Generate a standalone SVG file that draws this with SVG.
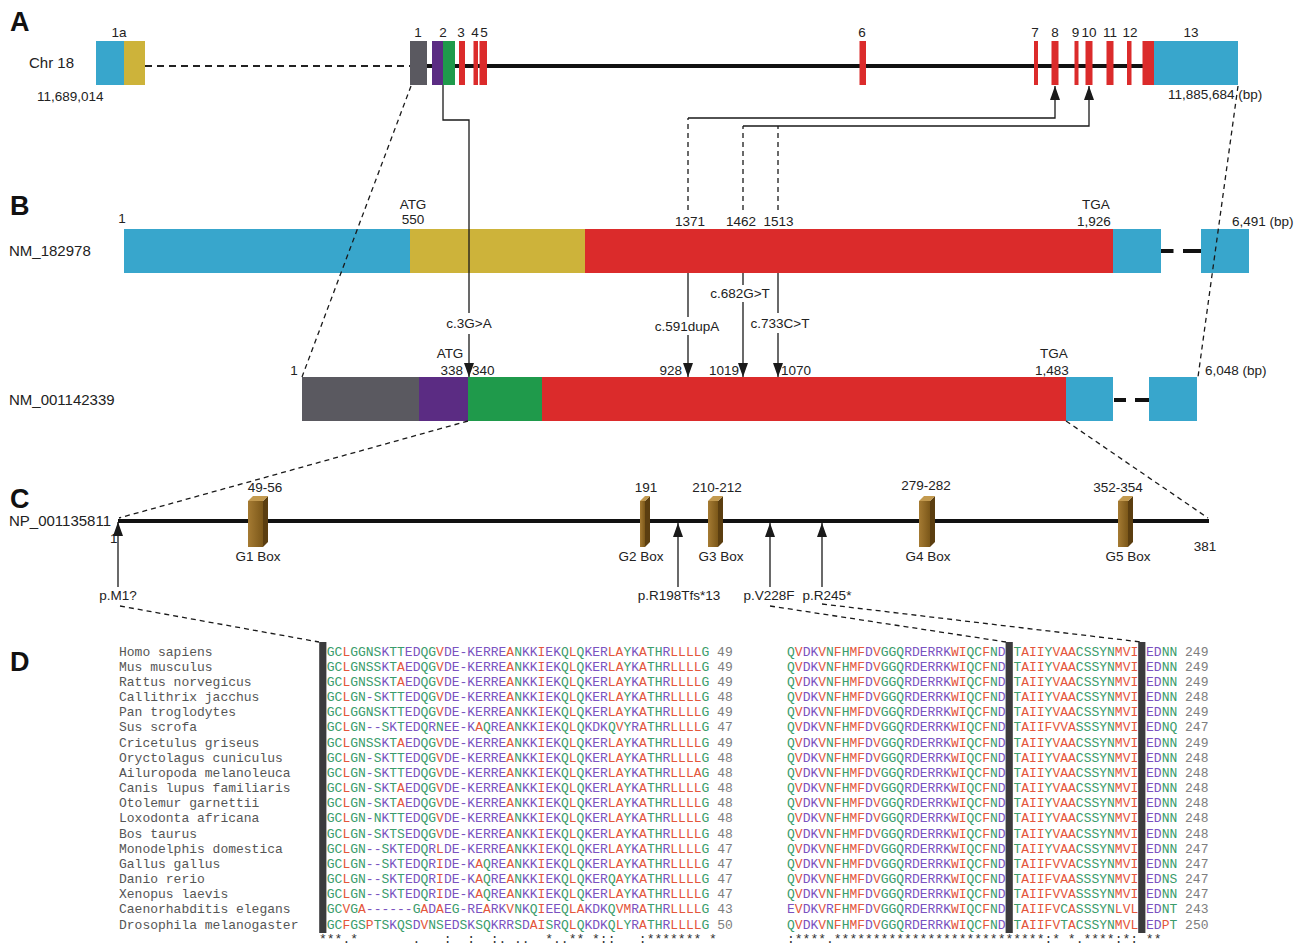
<svg xmlns="http://www.w3.org/2000/svg" width="1301" height="945" viewBox="0 0 1301 945">
<defs>
<style>
text{font-family:"Liberation Sans",Arial,sans-serif;fill:#222}
.pl{font-size:27px;font-weight:bold;fill:#111}
.nm{font-size:15px}
.lb{font-size:13.5px}
.mid{text-anchor:middle}
.end{text-anchor:end}
.blue{fill:#38a6cc}.yel{fill:#cdb33a}.red{fill:#db2b2b}.gry{fill:#5a5960}.pur{fill:#5b2c83}.grn{fill:#1f9a4b}
.ln{stroke:#1a1a1a;stroke-width:1.3;fill:none}
.ds{stroke:#1a1a1a;stroke-width:1.3;fill:none;stroke-dasharray:5 4}
.aa{font-family:"Liberation Mono","Courier New",monospace;font-size:13px;fill:#7a52bf;white-space:pre}
.sp{font-family:"Liberation Mono","Courier New",monospace;font-size:13px;fill:#555}
.r{fill:#e4563b}.g{fill:#3a9c6b}.n{fill:#7d7d7d}
.cs{font-family:"Liberation Mono","Courier New",monospace;font-size:13px;fill:#333;white-space:pre}
.bar{fill:#3b3b3d}
.bf{fill:url(#bx)}.bs{fill:#5b3e10}.bt{fill:#c39a4f}
</style>
<marker id="ah" viewBox="0 0 14 10" refX="14" refY="5" markerWidth="14" markerHeight="10" markerUnits="userSpaceOnUse" orient="auto"><path d="M0,0L14,5L0,10z" fill="#1a1a1a"/></marker>
<linearGradient id="bx" x1="0" x2="1" y1="0" y2="0"><stop offset="0" stop-color="#a57b33"/><stop offset="1" stop-color="#7b5719"/></linearGradient>
</defs>
<rect width="1301" height="945" fill="#fff"/>

<g id="labels">
<text class="pl" x="10" y="31">A</text>
<text class="pl" x="10" y="215">B</text>
<text class="pl" x="10" y="508">C</text>
<text class="pl" x="10" y="671">D</text>
</g>

<g id="chr18">
<text class="nm" x="29" y="68">Chr 18</text>
<text class="lb" x="37" y="101">11,689,014</text>
<text class="lb" x="1168" y="99">11,885,684 (bp)</text>
<line x1="145" y1="66" x2="410" y2="66" stroke="#222" stroke-width="2" stroke-dasharray="7 5"/>
<line x1="427" y1="66" x2="1143" y2="66" stroke="#111" stroke-width="4"/>
</g>
<g id="exon1a"><rect class="blue" x="96" y="41" width="28" height="44"/><rect class="yel" x="124" y="41" width="21" height="44"/><text class="lb mid" x="119" y="37">1a</text></g>
<g id="exon1"><rect class="gry" x="410" y="41" width="17" height="44"/><text class="lb mid" x="418" y="37">1</text></g>
<g id="exon2"><rect class="pur" x="432" y="41" width="11" height="44"/><rect class="grn" x="443" y="41" width="12" height="44"/><text class="lb mid" x="443" y="37">2</text></g>
<g id="exon3"><rect class="red" x="459" y="41" width="6" height="44"/><text class="lb mid" x="461" y="37">3</text></g>
<g id="exon4"><rect class="red" x="473.5" y="41" width="4.5" height="44"/><text class="lb mid" x="475" y="37">4</text></g>
<g id="exon5"><rect class="red" x="479.5" y="41" width="7.5" height="44"/><text class="lb mid" x="484" y="37">5</text></g>
<g id="exon6"><rect class="red" x="859.5" y="41" width="6.5" height="44"/><text class="lb mid" x="862" y="37">6</text></g>
<g id="exon7"><rect class="red" x="1034" y="41" width="4" height="44"/><text class="lb mid" x="1035" y="37">7</text></g>
<g id="exon8"><rect class="red" x="1051.5" y="41" width="7" height="44"/><text class="lb mid" x="1055" y="37">8</text></g>
<g id="exon9"><rect class="red" x="1074.5" y="41" width="4" height="44"/><text class="lb mid" x="1075.5" y="37">9</text></g>
<g id="exon10"><rect class="red" x="1085.5" y="41" width="7" height="44"/><text class="lb mid" x="1089" y="37">10</text></g>
<g id="exon11"><rect class="red" x="1106.5" y="41" width="7" height="44"/><text class="lb mid" x="1110" y="37">11</text></g>
<g id="exon12"><rect class="red" x="1127" y="41" width="4.5" height="44"/><text class="lb mid" x="1130" y="37">12</text></g>
<g id="exon13"><rect class="red" x="1142.5" y="41" width="11.5" height="44"/><rect class="blue" x="1154" y="41" width="84" height="44"/><text class="lb mid" x="1191" y="37">13</text></g>

<g id="NM_182978">
<text class="nm" x="9" y="256">NM_182978</text>
<rect class="blue" x="124" y="229" width="286" height="44"/>
<rect class="yel" x="410" y="229" width="175" height="44"/>
<rect class="red" x="585" y="229" width="528" height="44"/>
<rect class="blue" x="1113" y="229" width="48" height="44"/>
<rect x="1161" y="249" width="12.5" height="4" fill="#111"/>
<rect x="1183" y="249" width="18" height="4" fill="#111"/>
<rect class="blue" x="1201" y="229" width="48" height="44"/>
<text class="lb mid" x="122" y="223">1</text>
<text class="lb mid" x="413" y="209">ATG</text>
<text class="lb mid" x="413" y="224">550</text>
<text class="lb mid" x="690" y="226">1371</text>
<text class="lb mid" x="741" y="226">1462</text>
<text class="lb mid" x="778.5" y="226">1513</text>
<text class="lb mid" x="1096" y="209">TGA</text>
<text class="lb mid" x="1094" y="226">1,926</text>
<text class="lb" x="1232" y="226">6,491 (bp)</text>
</g>

<g id="NM_001142339">
<text class="nm" x="9" y="405">NM_001142339</text>
<rect class="gry" x="302" y="377" width="117" height="44"/>
<rect class="pur" x="419" y="377" width="49" height="44"/>
<rect class="grn" x="468" y="377" width="74" height="44"/>
<rect class="red" x="542" y="377" width="524" height="44"/>
<rect class="blue" x="1066" y="377" width="47" height="44"/>
<rect x="1114" y="398" width="12" height="4" fill="#111"/>
<rect x="1135" y="398" width="14" height="4" fill="#111"/>
<rect class="blue" x="1149" y="377" width="48" height="44"/>
<text class="lb mid" x="294" y="375">1</text>
<text class="lb mid" x="450" y="358">ATG</text>
<text class="lb end" x="463" y="375">338</text>
<text class="lb" x="472" y="375">340</text>
<text class="lb end" x="682" y="375">928</text>
<text class="lb end" x="739" y="375">1019</text>
<text class="lb" x="781" y="375">1070</text>
<text class="lb mid" x="1054" y="358">TGA</text>
<text class="lb mid" x="1052" y="375">1,483</text>
<text class="lb" x="1205" y="375">6,048 (bp)</text>
</g>

<g id="NP_001135811">
<text class="nm" x="9" y="526">NP_001135811</text>
<line x1="118" y1="521" x2="1209" y2="521" stroke="#111" stroke-width="4"/>
<text class="lb" x="110" y="543">1</text>
<text class="lb mid" x="1205" y="551">381</text>
</g>
<g id="G1box"><rect class="bf" x="248" y="501" width="15" height="46"/><polygon class="bs" points="263,501 268,496 268,542 263,547"/><polygon class="bt" points="248,501 253,496 268,496 263,501"/><text class="lb mid" x="265" y="492">49-56</text><text class="lb mid" x="258" y="561">G1 Box</text></g>
<g id="G2box"><rect class="bf" x="640" y="501" width="5" height="46"/><polygon class="bs" points="645,501 650,496 650,542 645,547"/><polygon class="bt" points="640,501 645,496 650,496 645,501"/><text class="lb mid" x="646" y="492">191</text><text class="lb mid" x="641" y="561">G2 Box</text></g>
<g id="G3box"><rect class="bf" x="708" y="501" width="10" height="46"/><polygon class="bs" points="718,501 723,496 723,542 718,547"/><polygon class="bt" points="708,501 713,496 723,496 718,501"/><text class="lb mid" x="717" y="492">210-212</text><text class="lb mid" x="721" y="561">G3 Box</text></g>
<g id="G4box"><rect class="bf" x="919" y="501" width="11" height="46"/><polygon class="bs" points="930,501 935,496 935,542 930,547"/><polygon class="bt" points="919,501 924,496 935,496 930,501"/><text class="lb mid" x="926" y="490">279-282</text><text class="lb mid" x="928" y="561">G4 Box</text></g>
<g id="G5box"><rect class="bf" x="1118" y="501" width="10" height="46"/><polygon class="bs" points="1128,501 1133,496 1133,542 1128,547"/><polygon class="bt" points="1118,501 1123,496 1133,496 1128,501"/><text class="lb mid" x="1118" y="492">352-354</text><text class="lb mid" x="1128" y="561">G5 Box</text></g>

<g id="mutations">
<text class="lb mid" x="469" y="328">c.3G&gt;A</text>
<text class="lb mid" x="687" y="331">c.591dupA</text>
<text class="lb mid" x="740" y="298">c.682G&gt;T</text>
<text class="lb mid" x="780" y="328">c.733C&gt;T</text>
<text class="lb mid" x="118" y="600">p.M1?</text>
<text class="lb mid" x="679" y="600">p.R198Tfs*13</text>
<text class="lb mid" x="769" y="600">p.V228F</text>
<text class="lb mid" x="827" y="600">p.R245*</text>
</g>

<g id="connectors">
<path class="ln" d="M443,85V120H469V313"/>
<path class="ln" d="M469,334V377" marker-end="url(#ah)"/>
<line class="ds" x1="411" y1="86" x2="302" y2="377"/>
<line class="ds" x1="1238" y1="86" x2="1198" y2="377"/>
<path class="ds" d="M688,210V118"/>
<path class="ln" d="M688,118H1055V86" marker-end="url(#ah)"/>
<path class="ds" d="M743,210V126"/>
<path class="ln" d="M743,126H1089V86" marker-end="url(#ah)"/>
<path class="ds" d="M778,210V126"/>
<path class="ln" d="M688,273V317"/>
<path class="ln" d="M688,335V377" marker-end="url(#ah)"/>
<path class="ln" d="M743,273V285"/>
<path class="ln" d="M743,302V377" marker-end="url(#ah)"/>
<path class="ln" d="M778,273V313"/>
<path class="ln" d="M778,333V377" marker-end="url(#ah)"/>
<line class="ds" x1="468" y1="421" x2="119" y2="518"/>
<line class="ds" x1="1066" y1="421" x2="1208" y2="518"/>
<path class="ln" d="M118,587V522" marker-end="url(#ah)"/>
<path class="ln" d="M678,587V523" marker-end="url(#ah)"/>
<path class="ln" d="M770,587V523" marker-end="url(#ah)"/>
<path class="ln" d="M822,587V523" marker-end="url(#ah)"/>
<line class="ds" x1="120" y1="606" x2="319" y2="642"/>
<line class="ds" x1="770" y1="606" x2="1006" y2="642"/>
<line class="ds" x1="822" y1="604" x2="1141" y2="642"/>
</g>

<g id="species">
<text class="sp" x="119" y="655.5">Homo sapiens</text>
<text class="sp" x="119" y="670.7">Mus musculus</text>
<text class="sp" x="119" y="685.8">Rattus norvegicus</text>
<text class="sp" x="119" y="701">Callithrix jacchus</text>
<text class="sp" x="119" y="716.2">Pan troglodytes</text>
<text class="sp" x="119" y="731.4">Sus scrofa</text>
<text class="sp" x="119" y="746.5">Cricetulus griseus</text>
<text class="sp" x="119" y="761.7">Oryctolagus cuniculus</text>
<text class="sp" x="119" y="776.9">Ailuropoda melanoleuca</text>
<text class="sp" x="119" y="792">Canis lupus familiaris</text>
<text class="sp" x="119" y="807.2">Otolemur garnettii</text>
<text class="sp" x="119" y="822.4">Loxodonta africana</text>
<text class="sp" x="119" y="837.5">Bos taurus</text>
<text class="sp" x="119" y="852.7">Monodelphis domestica</text>
<text class="sp" x="119" y="867.9">Gallus gallus</text>
<text class="sp" x="119" y="883.1">Danio rerio</text>
<text class="sp" x="119" y="898.2">Xenopus laevis</text>
<text class="sp" x="119" y="913.4">Caenorhabditis elegans</text>
<text class="sp" x="119" y="928.6">Drosophila melanogaster</text>
</g>

<g id="alnLeft" xml:space="preserve">
<text class="aa" x="326.8" y="655.5"><tspan class="g">GC</tspan><tspan class="r">L</tspan><tspan class="g">GGNS</tspan>K<tspan class="g">TT</tspan>ED<tspan class="g">QG</tspan><tspan class="r">V</tspan>DE-KERRE<tspan class="r">A</tspan><tspan class="g">N</tspan>KK<tspan class="r">I</tspan>EK<tspan class="g">Q</tspan><tspan class="r">L</tspan><tspan class="g">Q</tspan>KER<tspan class="r">LA</tspan><tspan class="g">Y</tspan>K<tspan class="r">A</tspan><tspan class="g">TH</tspan>R<tspan class="r">LLLL</tspan><tspan class="g">G</tspan><tspan class="n"> 49</tspan></text>
<text class="aa" x="326.8" y="670.7"><tspan class="g">GC</tspan><tspan class="r">L</tspan><tspan class="g">GNSS</tspan>K<tspan class="g">T</tspan><tspan class="r">A</tspan>ED<tspan class="g">QG</tspan><tspan class="r">V</tspan>DE-KERRE<tspan class="r">A</tspan><tspan class="g">N</tspan>KK<tspan class="r">I</tspan>EK<tspan class="g">Q</tspan><tspan class="r">L</tspan><tspan class="g">Q</tspan>KER<tspan class="r">LA</tspan><tspan class="g">Y</tspan>K<tspan class="r">A</tspan><tspan class="g">TH</tspan>R<tspan class="r">LLLL</tspan><tspan class="g">G</tspan><tspan class="n"> 49</tspan></text>
<text class="aa" x="326.8" y="685.8"><tspan class="g">GC</tspan><tspan class="r">L</tspan><tspan class="g">GNSS</tspan>K<tspan class="g">T</tspan><tspan class="r">A</tspan>ED<tspan class="g">QG</tspan><tspan class="r">V</tspan>DE-KERRE<tspan class="r">A</tspan><tspan class="g">N</tspan>KK<tspan class="r">I</tspan>EK<tspan class="g">Q</tspan><tspan class="r">L</tspan><tspan class="g">Q</tspan>KER<tspan class="r">LA</tspan><tspan class="g">Y</tspan>K<tspan class="r">A</tspan><tspan class="g">TH</tspan>R<tspan class="r">LLLL</tspan><tspan class="g">G</tspan><tspan class="n"> 49</tspan></text>
<text class="aa" x="326.8" y="701"><tspan class="g">GC</tspan><tspan class="r">L</tspan><tspan class="g">GN</tspan>-<tspan class="g">S</tspan>K<tspan class="g">TT</tspan>ED<tspan class="g">QG</tspan><tspan class="r">V</tspan>DE-KERRE<tspan class="r">A</tspan><tspan class="g">N</tspan>KK<tspan class="r">I</tspan>EK<tspan class="g">Q</tspan><tspan class="r">L</tspan><tspan class="g">Q</tspan>KER<tspan class="r">LA</tspan><tspan class="g">Y</tspan>K<tspan class="r">A</tspan><tspan class="g">TH</tspan>R<tspan class="r">LLLL</tspan><tspan class="g">G</tspan><tspan class="n"> 48</tspan></text>
<text class="aa" x="326.8" y="716.2"><tspan class="g">GC</tspan><tspan class="r">L</tspan><tspan class="g">GGNS</tspan>K<tspan class="g">TT</tspan>ED<tspan class="g">QG</tspan><tspan class="r">V</tspan>DE-KERRE<tspan class="r">A</tspan><tspan class="g">N</tspan>KK<tspan class="r">I</tspan>EK<tspan class="g">Q</tspan><tspan class="r">L</tspan><tspan class="g">Q</tspan>KER<tspan class="r">LA</tspan><tspan class="g">Y</tspan>K<tspan class="r">A</tspan><tspan class="g">TH</tspan>R<tspan class="r">LLLL</tspan><tspan class="g">G</tspan><tspan class="n"> 49</tspan></text>
<text class="aa" x="326.8" y="731.4"><tspan class="g">GC</tspan><tspan class="r">L</tspan><tspan class="g">GN</tspan>--<tspan class="g">S</tspan>K<tspan class="g">T</tspan>ED<tspan class="g">Q</tspan>R<tspan class="g">N</tspan>EE-K<tspan class="r">A</tspan><tspan class="g">Q</tspan>RE<tspan class="r">A</tspan><tspan class="g">N</tspan>KK<tspan class="r">I</tspan>EK<tspan class="g">Q</tspan><tspan class="r">L</tspan><tspan class="g">Q</tspan>KDK<tspan class="g">Q</tspan><tspan class="r">V</tspan><tspan class="g">Y</tspan>R<tspan class="r">A</tspan><tspan class="g">TH</tspan>R<tspan class="r">LLLL</tspan><tspan class="g">G</tspan><tspan class="n"> 47</tspan></text>
<text class="aa" x="326.8" y="746.5"><tspan class="g">GC</tspan><tspan class="r">L</tspan><tspan class="g">GNSS</tspan>K<tspan class="g">T</tspan><tspan class="r">A</tspan>ED<tspan class="g">QG</tspan><tspan class="r">V</tspan>DE-KERRE<tspan class="r">A</tspan><tspan class="g">N</tspan>KK<tspan class="r">I</tspan>EK<tspan class="g">Q</tspan><tspan class="r">L</tspan><tspan class="g">Q</tspan>KER<tspan class="r">LA</tspan><tspan class="g">Y</tspan>K<tspan class="r">A</tspan><tspan class="g">TH</tspan>R<tspan class="r">LLLL</tspan><tspan class="g">G</tspan><tspan class="n"> 49</tspan></text>
<text class="aa" x="326.8" y="761.7"><tspan class="g">GC</tspan><tspan class="r">L</tspan><tspan class="g">GN</tspan>-<tspan class="g">S</tspan>K<tspan class="g">TT</tspan>ED<tspan class="g">QG</tspan><tspan class="r">V</tspan>DE-KERRE<tspan class="r">A</tspan><tspan class="g">N</tspan>KK<tspan class="r">I</tspan>EK<tspan class="g">Q</tspan><tspan class="r">L</tspan><tspan class="g">Q</tspan>KER<tspan class="r">LA</tspan><tspan class="g">Y</tspan>K<tspan class="r">A</tspan><tspan class="g">TH</tspan>R<tspan class="r">LLLL</tspan><tspan class="g">G</tspan><tspan class="n"> 48</tspan></text>
<text class="aa" x="326.8" y="776.9"><tspan class="g">GC</tspan><tspan class="r">L</tspan><tspan class="g">GN</tspan>-<tspan class="g">S</tspan>K<tspan class="g">TT</tspan>ED<tspan class="g">QG</tspan><tspan class="r">V</tspan>DE-KERRE<tspan class="r">A</tspan><tspan class="g">N</tspan>KK<tspan class="r">I</tspan>EK<tspan class="g">Q</tspan><tspan class="r">L</tspan><tspan class="g">Q</tspan>KER<tspan class="r">LA</tspan><tspan class="g">Y</tspan>K<tspan class="r">A</tspan><tspan class="g">TH</tspan>R<tspan class="r">LLLA</tspan><tspan class="g">G</tspan><tspan class="n"> 48</tspan></text>
<text class="aa" x="326.8" y="792"><tspan class="g">GC</tspan><tspan class="r">L</tspan><tspan class="g">GN</tspan>-<tspan class="g">S</tspan>K<tspan class="g">T</tspan><tspan class="r">A</tspan>ED<tspan class="g">QG</tspan><tspan class="r">V</tspan>DE-KERRE<tspan class="r">A</tspan><tspan class="g">N</tspan>KK<tspan class="r">I</tspan>EK<tspan class="g">Q</tspan><tspan class="r">L</tspan><tspan class="g">Q</tspan>KER<tspan class="r">LA</tspan><tspan class="g">Y</tspan>K<tspan class="r">A</tspan><tspan class="g">TH</tspan>R<tspan class="r">LLLL</tspan><tspan class="g">G</tspan><tspan class="n"> 48</tspan></text>
<text class="aa" x="326.8" y="807.2"><tspan class="g">GC</tspan><tspan class="r">L</tspan><tspan class="g">GN</tspan>-<tspan class="g">S</tspan>K<tspan class="g">T</tspan><tspan class="r">A</tspan>ED<tspan class="g">QG</tspan><tspan class="r">V</tspan>DE-KERRE<tspan class="r">A</tspan><tspan class="g">N</tspan>KK<tspan class="r">I</tspan>EK<tspan class="g">Q</tspan><tspan class="r">L</tspan><tspan class="g">Q</tspan>KER<tspan class="r">LA</tspan><tspan class="g">Y</tspan>K<tspan class="r">A</tspan><tspan class="g">TH</tspan>R<tspan class="r">LLLL</tspan><tspan class="g">G</tspan><tspan class="n"> 48</tspan></text>
<text class="aa" x="326.8" y="822.4"><tspan class="g">GC</tspan><tspan class="r">L</tspan><tspan class="g">GN</tspan>-<tspan class="g">N</tspan>K<tspan class="g">TT</tspan>ED<tspan class="g">QG</tspan><tspan class="r">V</tspan>DE-KERRE<tspan class="r">A</tspan><tspan class="g">N</tspan>KK<tspan class="r">I</tspan>EK<tspan class="g">Q</tspan><tspan class="r">L</tspan><tspan class="g">Q</tspan>KER<tspan class="r">LA</tspan><tspan class="g">Y</tspan>K<tspan class="r">A</tspan><tspan class="g">TH</tspan>R<tspan class="r">LLLL</tspan><tspan class="g">G</tspan><tspan class="n"> 48</tspan></text>
<text class="aa" x="326.8" y="837.5"><tspan class="g">GC</tspan><tspan class="r">L</tspan><tspan class="g">GN</tspan>-<tspan class="g">S</tspan>K<tspan class="g">TS</tspan>ED<tspan class="g">QG</tspan><tspan class="r">V</tspan>DE-KERRE<tspan class="r">A</tspan><tspan class="g">N</tspan>KK<tspan class="r">I</tspan>EK<tspan class="g">Q</tspan><tspan class="r">L</tspan><tspan class="g">Q</tspan>KER<tspan class="r">LA</tspan><tspan class="g">Y</tspan>K<tspan class="r">A</tspan><tspan class="g">TH</tspan>R<tspan class="r">LLLL</tspan><tspan class="g">G</tspan><tspan class="n"> 48</tspan></text>
<text class="aa" x="326.8" y="852.7"><tspan class="g">GC</tspan><tspan class="r">L</tspan><tspan class="g">GN</tspan>--<tspan class="g">S</tspan>K<tspan class="g">T</tspan>ED<tspan class="g">Q</tspan>R<tspan class="r">L</tspan>DE-KERRE<tspan class="r">A</tspan><tspan class="g">N</tspan>KK<tspan class="r">I</tspan>EK<tspan class="g">Q</tspan><tspan class="r">L</tspan><tspan class="g">Q</tspan>KER<tspan class="r">LA</tspan><tspan class="g">Y</tspan>K<tspan class="r">A</tspan><tspan class="g">TH</tspan>R<tspan class="r">LLLL</tspan><tspan class="g">G</tspan><tspan class="n"> 47</tspan></text>
<text class="aa" x="326.8" y="867.9"><tspan class="g">GC</tspan><tspan class="r">L</tspan><tspan class="g">GN</tspan>--<tspan class="g">S</tspan>K<tspan class="g">T</tspan>ED<tspan class="g">Q</tspan>R<tspan class="r">I</tspan>DE-K<tspan class="r">A</tspan><tspan class="g">Q</tspan>RE<tspan class="r">A</tspan><tspan class="g">N</tspan>KK<tspan class="r">I</tspan>EK<tspan class="g">Q</tspan><tspan class="r">L</tspan><tspan class="g">Q</tspan>KER<tspan class="r">LA</tspan><tspan class="g">Y</tspan>K<tspan class="r">A</tspan><tspan class="g">TH</tspan>R<tspan class="r">LLLL</tspan><tspan class="g">G</tspan><tspan class="n"> 47</tspan></text>
<text class="aa" x="326.8" y="883.1"><tspan class="g">GC</tspan><tspan class="r">L</tspan><tspan class="g">GN</tspan>--<tspan class="g">S</tspan>K<tspan class="g">T</tspan>ED<tspan class="g">Q</tspan>R<tspan class="r">I</tspan>DE-K<tspan class="r">A</tspan><tspan class="g">Q</tspan>RE<tspan class="r">A</tspan><tspan class="g">N</tspan>KK<tspan class="r">I</tspan>EK<tspan class="g">Q</tspan><tspan class="r">L</tspan><tspan class="g">Q</tspan>KER<tspan class="g">Q</tspan><tspan class="r">A</tspan><tspan class="g">Y</tspan>K<tspan class="r">A</tspan><tspan class="g">TH</tspan>R<tspan class="r">LLLL</tspan><tspan class="g">G</tspan><tspan class="n"> 47</tspan></text>
<text class="aa" x="326.8" y="898.2"><tspan class="g">GC</tspan><tspan class="r">L</tspan><tspan class="g">GN</tspan>--<tspan class="g">S</tspan>K<tspan class="g">T</tspan>ED<tspan class="g">Q</tspan>R<tspan class="r">I</tspan>DE-K<tspan class="r">A</tspan><tspan class="g">Q</tspan>RE<tspan class="r">A</tspan><tspan class="g">N</tspan>KK<tspan class="r">I</tspan>EK<tspan class="g">Q</tspan><tspan class="r">L</tspan><tspan class="g">Q</tspan>KER<tspan class="r">LA</tspan><tspan class="g">Y</tspan>K<tspan class="r">A</tspan><tspan class="g">TH</tspan>R<tspan class="r">LLLL</tspan><tspan class="g">G</tspan><tspan class="n"> 47</tspan></text>
<text class="aa" x="326.8" y="913.4"><tspan class="g">GC</tspan><tspan class="r">V</tspan><tspan class="g">G</tspan><tspan class="r">A</tspan>------<tspan class="g">G</tspan><tspan class="r">A</tspan>D<tspan class="r">A</tspan>E<tspan class="g">G</tspan>-RE<tspan class="r">A</tspan>RK<tspan class="r">V</tspan><tspan class="g">N</tspan>K<tspan class="g">Q</tspan><tspan class="r">I</tspan>EE<tspan class="g">Q</tspan><tspan class="r">LA</tspan>KDK<tspan class="g">Q</tspan><tspan class="r">VM</tspan>R<tspan class="r">A</tspan><tspan class="g">TH</tspan>R<tspan class="r">LLLL</tspan><tspan class="g">G</tspan><tspan class="n"> 43</tspan></text>
<text class="aa" x="326.8" y="928.6"><tspan class="g">GC</tspan><tspan class="r">F</tspan><tspan class="g">GS</tspan><tspan class="r">P</tspan><tspan class="g">TS</tspan>K<tspan class="g">QS</tspan>D<tspan class="r">V</tspan><tspan class="g">NS</tspan>ED<tspan class="g">S</tspan>K<tspan class="g">SQ</tspan>KRR<tspan class="g">S</tspan>D<tspan class="r">AI</tspan><tspan class="g">S</tspan>R<tspan class="g">Q</tspan><tspan class="r">L</tspan><tspan class="g">Q</tspan>KDK<tspan class="g">Q</tspan><tspan class="r">L</tspan><tspan class="g">Y</tspan>R<tspan class="r">A</tspan><tspan class="g">TH</tspan>R<tspan class="r">LLLL</tspan><tspan class="g">G</tspan><tspan class="n"> 50</tspan></text>
<text class="cs" x="319" y="943">***.*       .   :  :  :. ..  *..** *::   :******* *</text>
</g>

<g id="alnRight" xml:space="preserve">
<text class="aa" x="787" y="655.5"><tspan class="g">Q</tspan><tspan class="r">V</tspan>DK<tspan class="r">V</tspan><tspan class="g">N</tspan><tspan class="r">F</tspan><tspan class="g">H</tspan><tspan class="r">MF</tspan>D<tspan class="r">V</tspan><tspan class="g">GGQ</tspan>RDERRK<tspan class="r">WI</tspan><tspan class="g">QC</tspan><tspan class="r">F</tspan><tspan class="g">N</tspan>D <tspan class="g">T</tspan><tspan class="r">AII</tspan><tspan class="g">Y</tspan><tspan class="r">VAA</tspan><tspan class="g">CSSYN</tspan><tspan class="r">MVI</tspan> ED<tspan class="g">NN</tspan><tspan class="n"> 249</tspan></text>
<text class="aa" x="787" y="670.7"><tspan class="g">Q</tspan><tspan class="r">V</tspan>DK<tspan class="r">V</tspan><tspan class="g">N</tspan><tspan class="r">F</tspan><tspan class="g">H</tspan><tspan class="r">MF</tspan>D<tspan class="r">V</tspan><tspan class="g">GGQ</tspan>RDERRK<tspan class="r">WI</tspan><tspan class="g">QC</tspan><tspan class="r">F</tspan><tspan class="g">N</tspan>D <tspan class="g">T</tspan><tspan class="r">AII</tspan><tspan class="g">Y</tspan><tspan class="r">VAA</tspan><tspan class="g">CSSYN</tspan><tspan class="r">MVI</tspan> ED<tspan class="g">NN</tspan><tspan class="n"> 249</tspan></text>
<text class="aa" x="787" y="685.8"><tspan class="g">Q</tspan><tspan class="r">V</tspan>DK<tspan class="r">V</tspan><tspan class="g">N</tspan><tspan class="r">F</tspan><tspan class="g">H</tspan><tspan class="r">MF</tspan>D<tspan class="r">V</tspan><tspan class="g">GGQ</tspan>RDERRK<tspan class="r">WI</tspan><tspan class="g">QC</tspan><tspan class="r">F</tspan><tspan class="g">N</tspan>D <tspan class="g">T</tspan><tspan class="r">AII</tspan><tspan class="g">Y</tspan><tspan class="r">VAA</tspan><tspan class="g">CSSYN</tspan><tspan class="r">MVI</tspan> ED<tspan class="g">NN</tspan><tspan class="n"> 249</tspan></text>
<text class="aa" x="787" y="701"><tspan class="g">Q</tspan><tspan class="r">V</tspan>DK<tspan class="r">V</tspan><tspan class="g">N</tspan><tspan class="r">F</tspan><tspan class="g">H</tspan><tspan class="r">MF</tspan>D<tspan class="r">V</tspan><tspan class="g">GGQ</tspan>RDERRK<tspan class="r">WI</tspan><tspan class="g">QC</tspan><tspan class="r">F</tspan><tspan class="g">N</tspan>D <tspan class="g">T</tspan><tspan class="r">AII</tspan><tspan class="g">Y</tspan><tspan class="r">VAA</tspan><tspan class="g">CSSYN</tspan><tspan class="r">MVI</tspan> ED<tspan class="g">NN</tspan><tspan class="n"> 248</tspan></text>
<text class="aa" x="787" y="716.2"><tspan class="g">Q</tspan><tspan class="r">V</tspan>DK<tspan class="r">V</tspan><tspan class="g">N</tspan><tspan class="r">F</tspan><tspan class="g">H</tspan><tspan class="r">MF</tspan>D<tspan class="r">V</tspan><tspan class="g">GGQ</tspan>RDERRK<tspan class="r">WI</tspan><tspan class="g">QC</tspan><tspan class="r">F</tspan><tspan class="g">N</tspan>D <tspan class="g">T</tspan><tspan class="r">AII</tspan><tspan class="g">Y</tspan><tspan class="r">VAA</tspan><tspan class="g">CSSYN</tspan><tspan class="r">MVI</tspan> ED<tspan class="g">NN</tspan><tspan class="n"> 249</tspan></text>
<text class="aa" x="787" y="731.4"><tspan class="g">Q</tspan><tspan class="r">V</tspan>DK<tspan class="r">V</tspan><tspan class="g">N</tspan><tspan class="r">F</tspan><tspan class="g">H</tspan><tspan class="r">MF</tspan>D<tspan class="r">V</tspan><tspan class="g">GGQ</tspan>RDERRK<tspan class="r">WI</tspan><tspan class="g">QC</tspan><tspan class="r">F</tspan><tspan class="g">N</tspan>D <tspan class="g">T</tspan><tspan class="r">AIIFVVA</tspan><tspan class="g">SSSYN</tspan><tspan class="r">MVI</tspan> ED<tspan class="g">NQ</tspan><tspan class="n"> 247</tspan></text>
<text class="aa" x="787" y="746.5"><tspan class="g">Q</tspan><tspan class="r">V</tspan>DK<tspan class="r">V</tspan><tspan class="g">N</tspan><tspan class="r">F</tspan><tspan class="g">H</tspan><tspan class="r">MF</tspan>D<tspan class="r">V</tspan><tspan class="g">GGQ</tspan>RDERRK<tspan class="r">WI</tspan><tspan class="g">QC</tspan><tspan class="r">F</tspan><tspan class="g">N</tspan>D <tspan class="g">T</tspan><tspan class="r">AII</tspan><tspan class="g">Y</tspan><tspan class="r">VAA</tspan><tspan class="g">CSSYN</tspan><tspan class="r">MVI</tspan> ED<tspan class="g">NN</tspan><tspan class="n"> 249</tspan></text>
<text class="aa" x="787" y="761.7"><tspan class="g">Q</tspan><tspan class="r">V</tspan>DK<tspan class="r">V</tspan><tspan class="g">N</tspan><tspan class="r">F</tspan><tspan class="g">H</tspan><tspan class="r">MF</tspan>D<tspan class="r">V</tspan><tspan class="g">GGQ</tspan>RDERRK<tspan class="r">WI</tspan><tspan class="g">QC</tspan><tspan class="r">F</tspan><tspan class="g">N</tspan>D <tspan class="g">T</tspan><tspan class="r">AII</tspan><tspan class="g">Y</tspan><tspan class="r">VAA</tspan><tspan class="g">CSSYN</tspan><tspan class="r">MVI</tspan> ED<tspan class="g">NN</tspan><tspan class="n"> 248</tspan></text>
<text class="aa" x="787" y="776.9"><tspan class="g">Q</tspan><tspan class="r">V</tspan>DK<tspan class="r">V</tspan><tspan class="g">N</tspan><tspan class="r">F</tspan><tspan class="g">H</tspan><tspan class="r">MF</tspan>D<tspan class="r">V</tspan><tspan class="g">GGQ</tspan>RDERRK<tspan class="r">WI</tspan><tspan class="g">QC</tspan><tspan class="r">F</tspan><tspan class="g">N</tspan>D <tspan class="g">T</tspan><tspan class="r">AII</tspan><tspan class="g">Y</tspan><tspan class="r">VAA</tspan><tspan class="g">CSSYN</tspan><tspan class="r">MVI</tspan> ED<tspan class="g">NN</tspan><tspan class="n"> 248</tspan></text>
<text class="aa" x="787" y="792"><tspan class="g">Q</tspan><tspan class="r">V</tspan>DK<tspan class="r">V</tspan><tspan class="g">N</tspan><tspan class="r">F</tspan><tspan class="g">H</tspan><tspan class="r">MF</tspan>D<tspan class="r">V</tspan><tspan class="g">GGQ</tspan>RDERRK<tspan class="r">WI</tspan><tspan class="g">QC</tspan><tspan class="r">F</tspan><tspan class="g">N</tspan>D <tspan class="g">T</tspan><tspan class="r">AII</tspan><tspan class="g">Y</tspan><tspan class="r">VAA</tspan><tspan class="g">CSSYN</tspan><tspan class="r">MVI</tspan> ED<tspan class="g">NN</tspan><tspan class="n"> 248</tspan></text>
<text class="aa" x="787" y="807.2"><tspan class="g">Q</tspan><tspan class="r">V</tspan>DK<tspan class="r">V</tspan><tspan class="g">N</tspan><tspan class="r">F</tspan><tspan class="g">H</tspan><tspan class="r">MF</tspan>D<tspan class="r">V</tspan><tspan class="g">GGQ</tspan>RDERRK<tspan class="r">WI</tspan><tspan class="g">QC</tspan><tspan class="r">F</tspan><tspan class="g">N</tspan>D <tspan class="g">T</tspan><tspan class="r">AII</tspan><tspan class="g">Y</tspan><tspan class="r">VAA</tspan><tspan class="g">CSSYN</tspan><tspan class="r">MVI</tspan> ED<tspan class="g">NN</tspan><tspan class="n"> 248</tspan></text>
<text class="aa" x="787" y="822.4"><tspan class="g">Q</tspan><tspan class="r">V</tspan>DK<tspan class="r">V</tspan><tspan class="g">N</tspan><tspan class="r">F</tspan><tspan class="g">H</tspan><tspan class="r">MF</tspan>D<tspan class="r">V</tspan><tspan class="g">GGQ</tspan>RDERRK<tspan class="r">WI</tspan><tspan class="g">QC</tspan><tspan class="r">F</tspan><tspan class="g">N</tspan>D <tspan class="g">T</tspan><tspan class="r">AII</tspan><tspan class="g">Y</tspan><tspan class="r">VAA</tspan><tspan class="g">CSSYN</tspan><tspan class="r">MVI</tspan> ED<tspan class="g">NN</tspan><tspan class="n"> 248</tspan></text>
<text class="aa" x="787" y="837.5"><tspan class="g">Q</tspan><tspan class="r">V</tspan>DK<tspan class="r">V</tspan><tspan class="g">N</tspan><tspan class="r">F</tspan><tspan class="g">H</tspan><tspan class="r">MF</tspan>D<tspan class="r">V</tspan><tspan class="g">GGQ</tspan>RDERRK<tspan class="r">WI</tspan><tspan class="g">QC</tspan><tspan class="r">F</tspan><tspan class="g">N</tspan>D <tspan class="g">T</tspan><tspan class="r">AII</tspan><tspan class="g">Y</tspan><tspan class="r">VAA</tspan><tspan class="g">CSSYN</tspan><tspan class="r">MVI</tspan> ED<tspan class="g">NN</tspan><tspan class="n"> 248</tspan></text>
<text class="aa" x="787" y="852.7"><tspan class="g">Q</tspan><tspan class="r">V</tspan>DK<tspan class="r">V</tspan><tspan class="g">N</tspan><tspan class="r">F</tspan><tspan class="g">H</tspan><tspan class="r">MF</tspan>D<tspan class="r">V</tspan><tspan class="g">GGQ</tspan>RDERRK<tspan class="r">WI</tspan><tspan class="g">QC</tspan><tspan class="r">F</tspan><tspan class="g">N</tspan>D <tspan class="g">T</tspan><tspan class="r">AII</tspan><tspan class="g">Y</tspan><tspan class="r">VAA</tspan><tspan class="g">CSSYN</tspan><tspan class="r">MVI</tspan> ED<tspan class="g">NN</tspan><tspan class="n"> 247</tspan></text>
<text class="aa" x="787" y="867.9"><tspan class="g">Q</tspan><tspan class="r">V</tspan>DK<tspan class="r">V</tspan><tspan class="g">N</tspan><tspan class="r">F</tspan><tspan class="g">H</tspan><tspan class="r">MF</tspan>D<tspan class="r">V</tspan><tspan class="g">GGQ</tspan>RDERRK<tspan class="r">WI</tspan><tspan class="g">QC</tspan><tspan class="r">F</tspan><tspan class="g">N</tspan>D <tspan class="g">T</tspan><tspan class="r">AIIFVVA</tspan><tspan class="g">CSSYN</tspan><tspan class="r">MVI</tspan> ED<tspan class="g">NN</tspan><tspan class="n"> 247</tspan></text>
<text class="aa" x="787" y="883.1"><tspan class="g">Q</tspan><tspan class="r">V</tspan>DK<tspan class="r">V</tspan><tspan class="g">N</tspan><tspan class="r">F</tspan><tspan class="g">H</tspan><tspan class="r">MF</tspan>D<tspan class="r">V</tspan><tspan class="g">GGQ</tspan>RDERRK<tspan class="r">WI</tspan><tspan class="g">QC</tspan><tspan class="r">F</tspan><tspan class="g">N</tspan>D <tspan class="g">T</tspan><tspan class="r">AIIFVAA</tspan><tspan class="g">SSSYN</tspan><tspan class="r">MVI</tspan> ED<tspan class="g">NS</tspan><tspan class="n"> 247</tspan></text>
<text class="aa" x="787" y="898.2"><tspan class="g">Q</tspan><tspan class="r">V</tspan>DK<tspan class="r">V</tspan><tspan class="g">N</tspan><tspan class="r">F</tspan><tspan class="g">H</tspan><tspan class="r">MF</tspan>D<tspan class="r">V</tspan><tspan class="g">GGQ</tspan>RDERRK<tspan class="r">WI</tspan><tspan class="g">QC</tspan><tspan class="r">F</tspan><tspan class="g">N</tspan>D <tspan class="g">T</tspan><tspan class="r">AIIFVVA</tspan><tspan class="g">SSSYN</tspan><tspan class="r">MVI</tspan> ED<tspan class="g">NN</tspan><tspan class="n"> 247</tspan></text>
<text class="aa" x="787" y="913.4">E<tspan class="r">V</tspan>DK<tspan class="r">V</tspan>R<tspan class="r">F</tspan><tspan class="g">H</tspan><tspan class="r">MF</tspan>D<tspan class="r">V</tspan><tspan class="g">GGQ</tspan>RDERRK<tspan class="r">WI</tspan><tspan class="g">QC</tspan><tspan class="r">F</tspan><tspan class="g">N</tspan>D <tspan class="g">T</tspan><tspan class="r">AIIFV</tspan><tspan class="g">C</tspan><tspan class="r">A</tspan><tspan class="g">SSSYN</tspan><tspan class="r">LVL</tspan> ED<tspan class="g">NT</tspan><tspan class="n"> 243</tspan></text>
<text class="aa" x="787" y="928.6"><tspan class="g">Q</tspan><tspan class="r">V</tspan>DK<tspan class="r">V</tspan><tspan class="g">N</tspan><tspan class="r">F</tspan><tspan class="g">H</tspan><tspan class="r">MF</tspan>D<tspan class="r">V</tspan><tspan class="g">GGQ</tspan>RDERRK<tspan class="r">WI</tspan><tspan class="g">QC</tspan><tspan class="r">F</tspan><tspan class="g">N</tspan>D <tspan class="g">T</tspan><tspan class="r">AIIFV</tspan><tspan class="g">T</tspan><tspan class="r">A</tspan><tspan class="g">CSSYN</tspan><tspan class="r">MVL</tspan> ED<tspan class="r">P</tspan><tspan class="g">T</tspan><tspan class="n"> 250</tspan></text>
<text class="cs" x="787" y="943">:****.***************************:* *.****:*: **</text>
</g>

<g id="highlightBars">
<rect class="bar" x="319.2" y="642" width="7.2" height="291"/>
<rect class="bar" x="1005.6" y="642" width="7.2" height="291"/>
<rect class="bar" x="1138.2" y="642" width="7.2" height="291"/>
</g>
</svg>
